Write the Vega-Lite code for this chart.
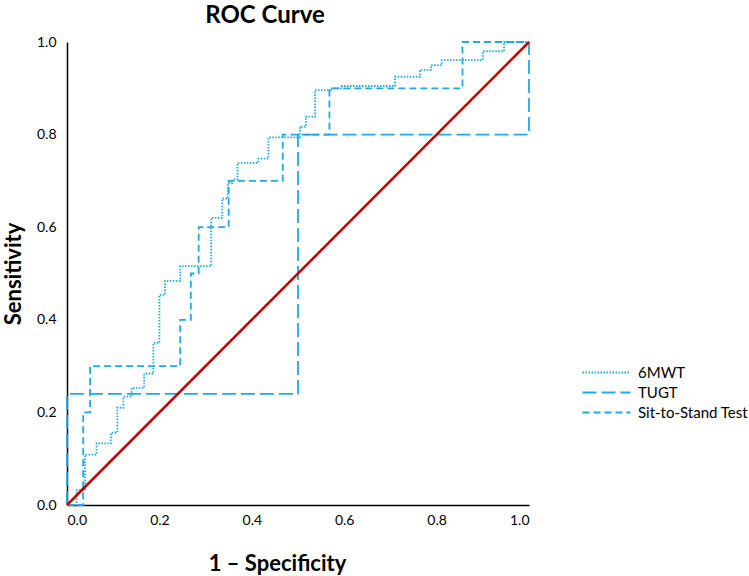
{
  "$schema": "https://vega.github.io/schema/vega-lite/v6.json",
  "width": 462,
  "height": 463,
  "autosize": "none",
  "padding": {"left": 67, "top": 42, "right": 220, "bottom": 71},
  "background": "white",
  "title": {"text": "ROC Curve", "font": "Lato", "fontSize": 24, "fontWeight": "bold", "color": "#000", "anchor": "middle", "dx": -33, "offset": 7},
  "config": {
    "view": {"stroke": null},
    "axis": {"labelFont": "Lato", "labelFontSize": 14, "labelColor": "#000", "ticks": false, "tickSize": 0, "grid": false, "domainColor": "#000", "domainWidth": 1.5, "titleFont": "Lato", "titleFontSize": 22, "titleFontWeight": "bold", "titleColor": "#000"},
    "legend": {"labelFont": "Lato", "labelFontSize": 15, "labelColor": "#000"}
  },
  "layer": [
    {
      "data": {"values": [
        {"series": "6MWT", "i": 0, "x": 0, "y": 0},
        {"series": "6MWT", "i": 1, "x": 0.021, "y": 0},
        {"series": "6MWT", "i": 2, "x": 0.021, "y": 0.032},
        {"series": "6MWT", "i": 3, "x": 0.039, "y": 0.032},
        {"series": "6MWT", "i": 4, "x": 0.039, "y": 0.109},
        {"series": "6MWT", "i": 5, "x": 0.064, "y": 0.109},
        {"series": "6MWT", "i": 6, "x": 0.064, "y": 0.133},
        {"series": "6MWT", "i": 7, "x": 0.095, "y": 0.133},
        {"series": "6MWT", "i": 8, "x": 0.095, "y": 0.156},
        {"series": "6MWT", "i": 9, "x": 0.109, "y": 0.156},
        {"series": "6MWT", "i": 10, "x": 0.109, "y": 0.21},
        {"series": "6MWT", "i": 11, "x": 0.122, "y": 0.21},
        {"series": "6MWT", "i": 12, "x": 0.122, "y": 0.234},
        {"series": "6MWT", "i": 13, "x": 0.14, "y": 0.234},
        {"series": "6MWT", "i": 14, "x": 0.14, "y": 0.253},
        {"series": "6MWT", "i": 15, "x": 0.167, "y": 0.253},
        {"series": "6MWT", "i": 16, "x": 0.167, "y": 0.284},
        {"series": "6MWT", "i": 17, "x": 0.187, "y": 0.284},
        {"series": "6MWT", "i": 18, "x": 0.187, "y": 0.35},
        {"series": "6MWT", "i": 19, "x": 0.2, "y": 0.35},
        {"series": "6MWT", "i": 20, "x": 0.2, "y": 0.454},
        {"series": "6MWT", "i": 21, "x": 0.212, "y": 0.454},
        {"series": "6MWT", "i": 22, "x": 0.212, "y": 0.484},
        {"series": "6MWT", "i": 23, "x": 0.245, "y": 0.484},
        {"series": "6MWT", "i": 24, "x": 0.245, "y": 0.516},
        {"series": "6MWT", "i": 25, "x": 0.312, "y": 0.516},
        {"series": "6MWT", "i": 26, "x": 0.312, "y": 0.62},
        {"series": "6MWT", "i": 27, "x": 0.336, "y": 0.62},
        {"series": "6MWT", "i": 28, "x": 0.336, "y": 0.662},
        {"series": "6MWT", "i": 29, "x": 0.348, "y": 0.662},
        {"series": "6MWT", "i": 30, "x": 0.348, "y": 0.695},
        {"series": "6MWT", "i": 31, "x": 0.358, "y": 0.695},
        {"series": "6MWT", "i": 32, "x": 0.358, "y": 0.703},
        {"series": "6MWT", "i": 33, "x": 0.369, "y": 0.703},
        {"series": "6MWT", "i": 34, "x": 0.369, "y": 0.739},
        {"series": "6MWT", "i": 35, "x": 0.414, "y": 0.739},
        {"series": "6MWT", "i": 36, "x": 0.414, "y": 0.748},
        {"series": "6MWT", "i": 37, "x": 0.436, "y": 0.748},
        {"series": "6MWT", "i": 38, "x": 0.436, "y": 0.794},
        {"series": "6MWT", "i": 39, "x": 0.504, "y": 0.794},
        {"series": "6MWT", "i": 40, "x": 0.504, "y": 0.817},
        {"series": "6MWT", "i": 41, "x": 0.517, "y": 0.817},
        {"series": "6MWT", "i": 42, "x": 0.517, "y": 0.839},
        {"series": "6MWT", "i": 43, "x": 0.537, "y": 0.839},
        {"series": "6MWT", "i": 44, "x": 0.537, "y": 0.896},
        {"series": "6MWT", "i": 45, "x": 0.573, "y": 0.896},
        {"series": "6MWT", "i": 46, "x": 0.573, "y": 0.9},
        {"series": "6MWT", "i": 47, "x": 0.595, "y": 0.9},
        {"series": "6MWT", "i": 48, "x": 0.595, "y": 0.905},
        {"series": "6MWT", "i": 49, "x": 0.71, "y": 0.905},
        {"series": "6MWT", "i": 50, "x": 0.71, "y": 0.925},
        {"series": "6MWT", "i": 51, "x": 0.764, "y": 0.925},
        {"series": "6MWT", "i": 52, "x": 0.764, "y": 0.94},
        {"series": "6MWT", "i": 53, "x": 0.788, "y": 0.94},
        {"series": "6MWT", "i": 54, "x": 0.788, "y": 0.95},
        {"series": "6MWT", "i": 55, "x": 0.811, "y": 0.95},
        {"series": "6MWT", "i": 56, "x": 0.811, "y": 0.961},
        {"series": "6MWT", "i": 57, "x": 0.9, "y": 0.961},
        {"series": "6MWT", "i": 58, "x": 0.9, "y": 0.98},
        {"series": "6MWT", "i": 59, "x": 0.946, "y": 0.98},
        {"series": "6MWT", "i": 60, "x": 0.946, "y": 1.0},
        {"series": "6MWT", "i": 61, "x": 1.0, "y": 1.0},
        {"series": "TUGT", "i": 0, "x": 0, "y": 0},
        {"series": "TUGT", "i": 1, "x": 0, "y": 0.24},
        {"series": "TUGT", "i": 2, "x": 0.5, "y": 0.24},
        {"series": "TUGT", "i": 3, "x": 0.5, "y": 0.8},
        {"series": "TUGT", "i": 4, "x": 1.0, "y": 0.8},
        {"series": "TUGT", "i": 5, "x": 1.0, "y": 1.0},
        {"series": "Sit-to-Stand Test", "i": 0, "x": 0, "y": 0},
        {"series": "Sit-to-Stand Test", "i": 1, "x": 0.035, "y": 0},
        {"series": "Sit-to-Stand Test", "i": 2, "x": 0.035, "y": 0.2},
        {"series": "Sit-to-Stand Test", "i": 3, "x": 0.05, "y": 0.2},
        {"series": "Sit-to-Stand Test", "i": 4, "x": 0.05, "y": 0.3},
        {"series": "Sit-to-Stand Test", "i": 5, "x": 0.245, "y": 0.3},
        {"series": "Sit-to-Stand Test", "i": 6, "x": 0.245, "y": 0.4},
        {"series": "Sit-to-Stand Test", "i": 7, "x": 0.268, "y": 0.4},
        {"series": "Sit-to-Stand Test", "i": 8, "x": 0.268, "y": 0.5},
        {"series": "Sit-to-Stand Test", "i": 9, "x": 0.285, "y": 0.5},
        {"series": "Sit-to-Stand Test", "i": 10, "x": 0.285, "y": 0.6},
        {"series": "Sit-to-Stand Test", "i": 11, "x": 0.35, "y": 0.6},
        {"series": "Sit-to-Stand Test", "i": 12, "x": 0.35, "y": 0.7},
        {"series": "Sit-to-Stand Test", "i": 13, "x": 0.467, "y": 0.7},
        {"series": "Sit-to-Stand Test", "i": 14, "x": 0.467, "y": 0.8},
        {"series": "Sit-to-Stand Test", "i": 15, "x": 0.568, "y": 0.8},
        {"series": "Sit-to-Stand Test", "i": 16, "x": 0.568, "y": 0.9},
        {"series": "Sit-to-Stand Test", "i": 17, "x": 0.856, "y": 0.9},
        {"series": "Sit-to-Stand Test", "i": 18, "x": 0.856, "y": 1.0},
        {"series": "Sit-to-Stand Test", "i": 19, "x": 1.0, "y": 1.0}
      ]},
      "mark": {"type": "line", "strokeWidth": 1.8, "interpolate": "linear"},
      "encoding": {
        "x": {"field": "x", "type": "quantitative", "scale": {"domain": [0, 1], "nice": false}, "axis": {"values": [0, 0.2, 0.4, 0.6, 0.8, 1.0], "format": ".1f", "labelPadding": 8, "title": "1 – Specificity", "titlePadding": 26, "titleX": 210}},
        "y": {"field": "y", "type": "quantitative", "scale": {"domain": [0, 1], "nice": false}, "axis": {"values": [0, 0.2, 0.4, 0.6, 0.8, 1.0], "format": ".1f", "labelPadding": 11, "title": "Sensitivity", "titlePadding": 11}},
        "order": {"field": "i", "type": "quantitative"},
        "color": {"field": "series", "type": "nominal", "scale": {"domain": ["6MWT", "TUGT", "Sit-to-Stand Test"], "range": ["#1fa9e6", "#1fa9e6", "#1fa9e6"]}, "legend": {"title": null, "orient": "none", "legendX": 532, "legendY": 323, "symbolType": "M-4,0H4", "symbolSize": 144, "symbolStrokeWidth": 2, "labelOffset": 24, "rowPadding": 4}},
        "strokeDash": {"field": "series", "type": "nominal", "scale": {"domain": ["6MWT", "TUGT", "Sit-to-Stand Test"], "range": [[1.5, 1.5], [14, 5], [7, 4]]}, "legend": {"title": null, "orient": "none", "legendX": 532, "legendY": 323, "symbolType": "M-4,0H4", "symbolSize": 144, "symbolStrokeWidth": 2, "labelOffset": 24, "rowPadding": 4}}
      }
    },
    {
      "data": {"values": [{"x": 0, "y": 0}, {"x": 1, "y": 1}]},
      "mark": {"type": "line", "color": "#c00000", "strokeWidth": 2.5},
      "encoding": {
        "x": {"field": "x", "type": "quantitative"},
        "y": {"field": "y", "type": "quantitative"}
      }
    }
  ]
}
